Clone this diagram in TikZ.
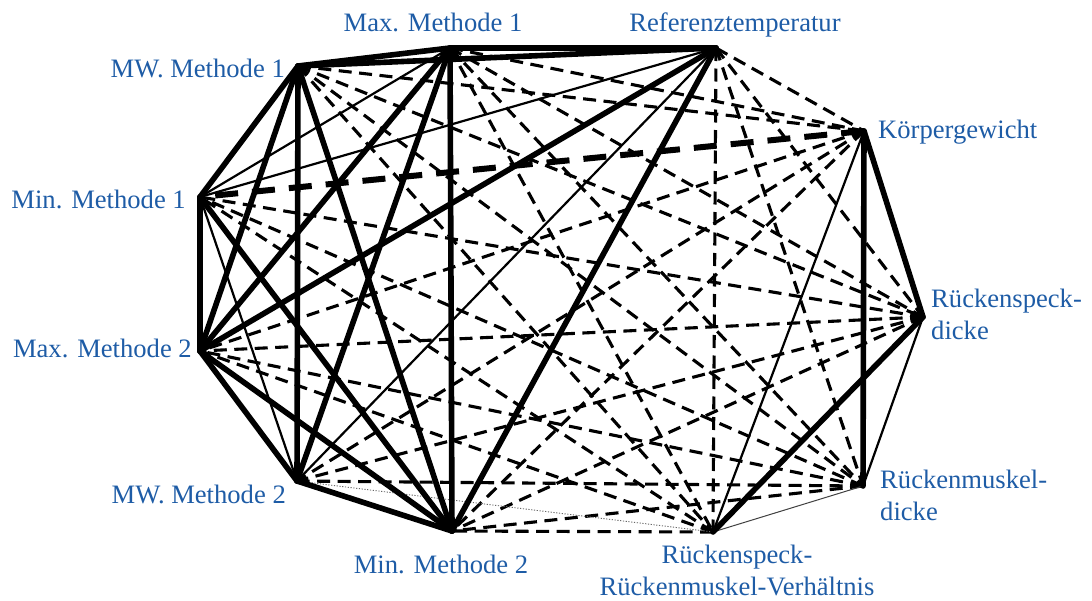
\documentclass[tikz,border=0pt]{standalone}
\usepackage{fontspec}
\setmainfont{Liberation Serif}
\usepackage{xcolor}
\definecolor{lblblue}{RGB}{30,92,166}

\begin{document}
\begin{tikzpicture}[x=1pt,y=-1pt,line cap=round,
  label node/.style={text=lblblue,font=\fontsize{26.6}{31.5}\selectfont,inner sep=0pt},
  strong edge/.style={line width=5.6pt},
  thin edge/.style={line width=2.2pt},
  hair edge/.style={line width=1pt,black!75},
  dash edge/.style={line width=3.1pt,line cap=butt,dash pattern=on 13pt off 7.5pt},
  heavy dash edge/.style={line width=6pt,line cap=butt,dash pattern=on 23pt off 14pt},
  dot edge/.style={line width=0.9pt,black!60,line cap=butt,dash pattern=on 1.2pt off 1.6pt}]
  \useasboundingbox (0,0) rectangle (1092,600);

  \coordinate (mw1) at (298,66);
  \coordinate (max1) at (450,48);
  \coordinate (ref) at (716,48);
  \coordinate (kg) at (864,131);
  \coordinate (rsd) at (923,317);
  \coordinate (rmd) at (863,486);
  \coordinate (ratio) at (713,532);
  \coordinate (min2) at (452,531);
  \coordinate (mw2) at (297,481);
  \coordinate (max2) at (200,351);
  \coordinate (min1) at (200,197);

  % dashed lines
  \path[dash edge]
  (mw1) edge (kg)
  (mw1) edge (rsd)
  (mw1) edge (rmd)
  (mw1) edge (ratio)
  (max1) edge (kg)
  (max1) edge (rsd)
  (max1) edge (rmd)
  (max1) edge (ratio)
  (ref) edge (kg)
  (ref) edge (rsd)
  (ref) edge (rmd)
  (ref) edge (ratio)
  (kg) edge (min2)
  (kg) edge (mw2)
  (kg) edge (max2)
  (rsd) edge (min2)
  (rsd) edge (mw2)
  (rsd) edge (max2)
  (rsd) edge (min1)
  (rmd) edge (min2)
  (rmd) edge (mw2)
  (rmd) edge (max2)
  (rmd) edge (min1)
  (ratio) edge (min2)
  (ratio) edge (max2)
  (ratio) edge (min1);
  \path (kg) edge[heavy dash edge] (min1)
  (ratio) edge[dot edge] (mw2)
  (rmd) edge[hair edge] (ratio);

  % thin lines
  \path[thin edge]
  (max1) edge (min1)
  (ref) edge (min1)
  (ref) edge (mw2)
  (kg) edge (ratio)
  (rsd) edge (rmd)
  (mw2) edge (min1);

  % thick lines
  \path[strong edge]
  (mw1) edge (max1)
  (mw1) edge (ref)
  (mw1) edge (min2)
  (mw1) edge (mw2)
  (mw1) edge (max2)
  (mw1) edge (min1)
  (max1) edge (ref)
  (max1) edge (min2)
  (max1) edge (mw2)
  (max1) edge (max2)
  (ref) edge (min2)
  (ref) edge (max2)
  (kg) edge (rsd)
  (kg) edge (rmd)
  (rsd) edge (ratio)
  (min2) edge (mw2)
  (min2) edge (max2)
  (min2) edge (min1)
  (mw2) edge (max2)
  (max2) edge (min1);

  % labels
  \node[label node,anchor=base east] (t-mw1) at (285,77) {MW. Methode 1};
  \node[label node,anchor=base] (t-max1) at (433,31) {Max. Methode 1};
  \node[label node,anchor=base] (t-ref) at (735,31) {Referenztemperatur};
  \node[label node,anchor=base west] (t-kg) at (878,138) {Körpergewicht};
  \node[label node,anchor=north west,align=left] (t-rsd) at (931,289) {Rückenspeck-\\dicke};
  \node[label node,anchor=north west,align=left] (t-rmd) at (880,470) {Rückenmuskel-\\dicke};
  \node[label node,anchor=north,align=center] (t-ratio) at (737,545) {Rückenspeck-\\Rückenmuskel-Verhältnis};
  \node[label node,anchor=base] (t-min2) at (441,573) {Min. Methode 2};
  \node[label node,anchor=base east] (t-mw2) at (286,503) {MW. Methode 2};
  \node[label node,anchor=base east] (t-max2) at (192,357) {Max. Methode 2};
  \node[label node,anchor=base east] (t-min1) at (186,208) {Min. Methode 1};
\end{tikzpicture}
\end{document}
